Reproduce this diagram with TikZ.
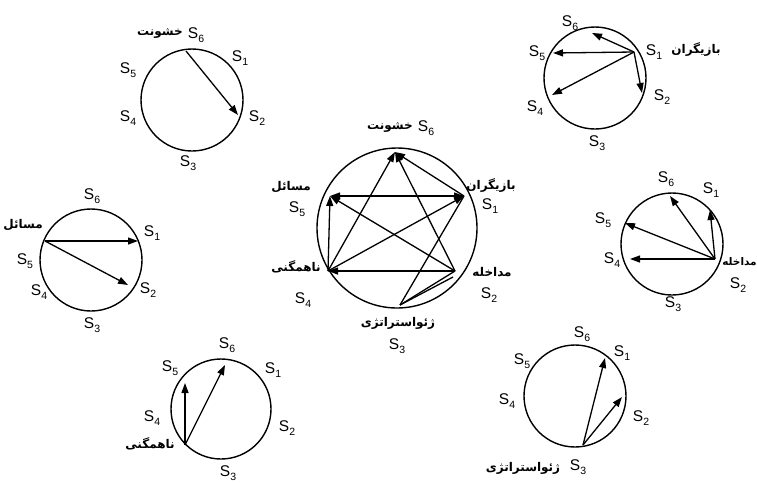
\documentclass[tikz,border=0pt]{standalone}
\usepackage{fontspec}
\setmainfont{Liberation Sans}
\newfontfamily\fa[Script=Arabic]{DejaVu Sans}
\TeXXeTstate=1
\usetikzlibrary{arrows.meta}
\newcommand\Sl[1]{S\raisebox{-0.28em}{\fontsize{10.5}{10.5}\selectfont #1}}
\newcommand\fatext[1]{{\fa\bfseries\beginR #1\endR}}
\begin{document}
\begin{tikzpicture}[x=1pt,y=-1pt,
  ring/.style={circle,draw,line width=1.4pt,inner sep=0pt,outer sep=0pt},
  arr/.style={-{Triangle[length=10pt,width=7pt]},line width=1.3pt},
  barr/.style={{Triangle[length=10pt,width=7pt]}-{Triangle[length=10pt,width=7pt]},line width=1.3pt},
  ln/.style={line width=1.3pt},
  lab/.style={inner sep=0pt,font=\fontsize{15.5}{15.5}\selectfont},
  fal/.style={inner sep=0pt,font=\fontsize{12}{12}\selectfont}]
\useasboundingbox (0,0) rectangle (757,483);

% ---------- top-left: S6 ----------
\node[ring,minimum size=102pt] (A) at (192,100) {};
\coordinate (A6) at (186,51);
\coordinate (A2) at (238,115);
\draw[arr] (A6) -- (A2);
\node[fal] (Af) at (160,33) {\fatext{خشونت}};
\node[lab] (Al6) at (196,35) {\Sl{6}};
\node[lab] (Al1) at (240,58) {\Sl{1}};
\node[lab] (Al5) at (128,70) {\Sl{5}};
\node[lab] (Al4) at (128,118) {\Sl{4}};
\node[lab] (Al2) at (257,118) {\Sl{2}};
\node[lab] (Al3) at (188,163) {\Sl{3}};

% ---------- top-right: S1 ----------
\node[ring,minimum size=102pt] (B) at (595,78) {};
\coordinate (B1) at (634,52);
\coordinate (B6) at (592,33);
\coordinate (B5) at (553,53);
\coordinate (B4) at (552,95);
\coordinate (B2) at (642,93);
\draw[arr] (B1) -- (B6);
\draw[arr] (B1) -- (B5);
\draw[arr] (B1) -- (B4);
\draw[arr] (B1) -- (B2);
\node[fal] (Bf) at (696,50) {\fatext{بازیگران}};
\node[lab] (Bl6) at (570,23) {\Sl{6}};
\node[lab] (Bl5) at (537,53) {\Sl{5}};
\node[lab] (Bl1) at (654,52) {\Sl{1}};
\node[lab] (Bl2) at (662,97) {\Sl{2}};
\node[lab] (Bl4) at (535,108) {\Sl{4}};
\node[lab] (Bl3) at (597,143) {\Sl{3}};

% ---------- left: S5 ----------
\node[ring,minimum size=102pt] (D) at (91,260) {};
\coordinate (D5) at (45,241);
\coordinate (D1) at (138,241);
\coordinate (D2) at (128,285);
\draw[arr] (D5) -- (D1);
\draw[arr] (D5) -- (D2);
\node[fal] (Df) at (23,225) {\fatext{مسائل}};
\node[lab] (Dl6) at (92,196) {\Sl{6}};
\node[lab] (Dl5) at (25,261) {\Sl{5}};
\node[lab] (Dl1) at (152,233) {\Sl{1}};
\node[lab] (Dl4) at (39,292) {\Sl{4}};
\node[lab] (Dl2) at (148,290) {\Sl{2}};
\node[lab] (Dl3) at (92,325) {\Sl{3}};

% ---------- right: S2 ----------
\node[ring,minimum size=102pt] (E) at (672,244) {};
\coordinate (E2) at (715,259);
\coordinate (E6) at (670,196);
\coordinate (E1) at (710,210);
\coordinate (E5) at (625,223);
\coordinate (E4) at (630,259);
\draw[arr] (E2) -- (E6);
\draw[arr] (E2) -- (E1);
\draw[arr] (E2) -- (E5);
\draw[arr] (E2) -- (E4);
\node[inner sep=0pt,font=\fontsize{10.5}{10.5}\selectfont] (Ef) at (739.5,262) {\fatext{مداخله}};
\node[lab] (El6) at (666,179) {\Sl{6}};
\node[lab] (El1) at (711,190) {\Sl{1}};
\node[lab] (El5) at (603,220) {\Sl{5}};
\node[lab] (El4) at (612,260) {\Sl{4}};
\node[lab] (El2) at (738,285) {\Sl{2}};
\node[lab] (El3) at (673,304) {\Sl{3}};

% ---------- bottom-left: S4 ----------
\node[ring,minimum size=100pt] (F) at (221,409) {};
\coordinate (F4) at (185,445);
\coordinate (F5) at (185,383);
\coordinate (F6) at (225,365);
\draw[arr] (F4) -- (F5);
\draw[arr] (F4) -- (F6);
\node[fal] (Ff) at (150,444) {\fatext{ناهمگنی}};
\node[lab] (Fl6) at (227,345) {\Sl{6}};
\node[lab] (Fl5) at (170,368) {\Sl{5}};
\node[lab] (Fl1) at (273,370) {\Sl{1}};
\node[lab] (Fl4) at (152,418) {\Sl{4}};
\node[lab] (Fl2) at (287,428) {\Sl{2}};
\node[lab] (Fl3) at (228,473) {\Sl{3}};

% ---------- bottom-right: S3 ----------
\node[ring,minimum size=102pt] (G) at (575,396) {};
\coordinate (G3) at (583,445);
\coordinate (G1) at (605,358);
\coordinate (G2) at (622,397);
\draw[arr] (G3) -- (G1);
\draw[arr] (G3) -- (G2);
\node[fal] (Gf) at (523,468) {\fatext{ژئواستراتژی}};
\node[lab] (Gl6) at (582,334) {\Sl{6}};
\node[lab] (Gl1) at (622,353) {\Sl{1}};
\node[lab] (Gl5) at (522,361) {\Sl{5}};
\node[lab] (Gl4) at (507,401) {\Sl{4}};
\node[lab] (Gl2) at (641,418) {\Sl{2}};
\node[lab] (Gl3) at (578,467) {\Sl{3}};

% ---------- centre ----------
\node[ring,minimum size=160pt] (C) at (397,228) {};
\coordinate (C6) at (395,152);
\coordinate (C1) at (464,196);
\coordinate (C5) at (330,196);
\coordinate (C4) at (328,271);
\coordinate (C2) at (455,271);
\coordinate (C2b) at (453,277);
\coordinate (C3) at (400,305);
\draw[arr] (C1) -- (C6);
\draw[arr] (C2) -- (C6);
\draw[arr] (C4) -- (C6);
\draw[barr] (C5) -- (C1);
\draw[arr] (C2) -- (C5);
\draw[arr] (C4) -- (C5);
\draw[arr] (C4) -- (C1);
\draw[arr] (C2) -- (C4);
\draw[ln] (C3) -- (C1);
\draw[ln] (C3) -- (C2);
\draw[ln] (C3) -- (C2b);
\node[fal] (Cf6) at (390,127) {\fatext{خشونت}};
\node[lab] (Cl6) at (426,128) {\Sl{6}};
\node[fal] (Cf1) at (491,185) {\fatext{بازیگران}};
\node[lab] (Cl1) at (490,206) {\Sl{1}};
\node[fal] (Cf5) at (291,187) {\fatext{مسائل}};
\node[lab] (Cl5) at (297,209) {\Sl{5}};
\node[fal] (Cf4) at (296,267) {\fatext{ناهمگنی}};
\node[lab] (Cl4) at (303,300) {\Sl{4}};
\node[fal] (Cf2) at (492,272) {\fatext{مداخله}};
\node[lab] (Cl2) at (489,295) {\Sl{2}};
\node[fal] (Cf3) at (398,323) {\fatext{ژئواستراتژی}};
\node[lab] (Cl3) at (397,346) {\Sl{3}};
\end{tikzpicture}
\end{document}
